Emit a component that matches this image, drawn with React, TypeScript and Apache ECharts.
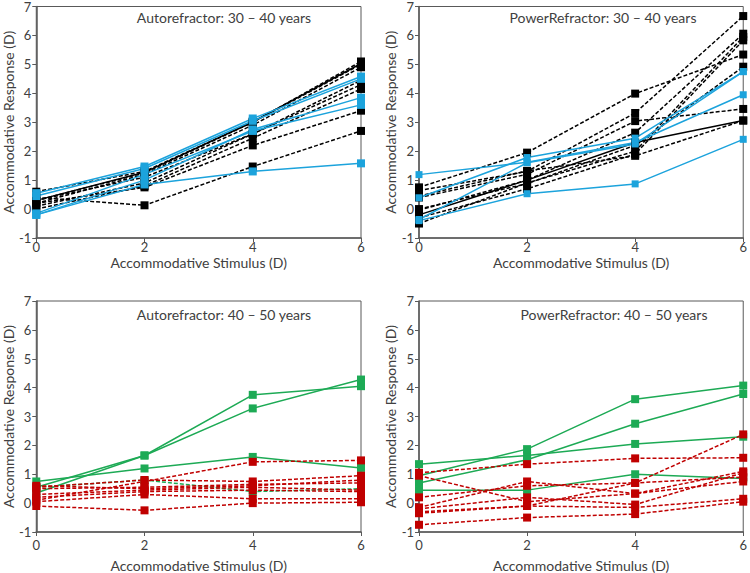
import React, { useEffect, useRef } from "react";
import * as echarts from "echarts";

const stimulus = [0, 2, 4, 6];
const yTicks = [-1, 0, 1, 2, 3, 4, 5, 6, 7];
const panelTitles = [
  "Autorefractor: 30 \u2013 40 years",
  "PowerRefractor: 30 \u2013 40 years",
  "Autorefractor: 40 \u2013 50 years",
  "PowerRefractor: 40 \u2013 50 years",
];

// Panel 1: Autorefractor 30-40
const p1Dashed = [
  [0.6, 1.3, 3.0, 5.1],
  [0.3, 1.25, 3.0, 5.0],
  [0.2, 1.2, 2.9, 4.9],
  [0.1, 0.9, 2.6, 4.3],
  [0.0, 0.8, 2.45, 4.15],
  [0.2, 0.75, 2.2, 3.4],
  [0.4, 0.13, 1.47, 2.7],
  [0.3, 1.1, 2.6, 4.45],
];
const p1Solid = [[0.3, 1.27, 3.02, 5.03]];
const p1Blue = [
  [0.55, 1.47, 3.13, 4.58],
  [0.45, 1.4, 3.05, 4.5],
  [-0.2, 1.0, 2.75, 3.85],
  [-0.15, 1.2, 2.7, 3.6],
  [-0.2, 0.85, 1.3, 1.58],
];

// Panel 2: PowerRefractor 30-40
const p2Dashed = [
  [0.75, 1.95, 3.99, 5.34],
  [0.64, 1.3, 3.32, 6.67],
  [0.4, 1.2, 3.04, 3.46],
  [-0.04, 1.0, 2.64, 6.06],
  [-0.5, 0.9, 2.0, 5.95],
  [0.45, 1.32, 1.84, 3.06],
  [0.0, 0.88, 2.2, 4.92],
  [-0.3, 0.7, 1.9, 5.83],
];
const p2Solid = [[-0.2, 1.0, 2.3, 3.06]];
const p2Blue = [
  [1.19, 1.62, 2.3, 3.95],
  [0.39, 1.78, 2.45, 4.75],
  [-0.36, 1.6, 2.25, 4.75],
  [-0.4, 0.53, 0.87, 2.41],
];

// Panel 3: Autorefractor 40-50
const p3Green = [
  [0.35, 1.65, 3.75, 4.05],
  [0.55, 1.65, 3.28, 4.28],
  [0.75, 1.2, 1.6, 1.22],
];
const p3GreenDashed = [[0.55, 0.8, 0.4, 0.5]];
const p3Red = [
  [0.1, 0.75, 1.43, 1.48],
  [0.55, 0.8, 0.75, 0.95],
  [0.5, 0.55, 0.65, 0.7],
  [0.3, 0.45, 0.55, 0.45],
  [0.2, 0.4, 0.45, 0.4],
  [0.05, 0.3, 0.15, 0.15],
  [-0.1, -0.25, 0.0, 0.03],
  [0.6, 0.5, 0.6, 0.8],
];

// Panel 4: PowerRefractor 40-50
const p4Green = [
  [1.35, 1.65, 2.05, 2.3],
  [0.95, 1.87, 3.6, 4.07],
  [0.7, 1.5, 2.75, 3.78],
  [0.45, 0.45, 1.0, 0.85],
];
const p4Red = [
  [1.05, 1.35, 1.55, 1.57],
  [0.95, 0.05, 0.33, 1.1],
  [0.2, 0.6, 0.7, 0.9],
  [-0.15, 0.75, 0.33, 0.75],
  [-0.3, -0.1, 0.7, 2.38],
  [-0.35, -0.1, -0.15, 0.15],
  [-0.75, -0.5, -0.38, 0.05],
  [-0.2, 0.2, -0.05, 1.05],
];

const BLACK = "#000000";
const BLUE = "#1ca3dc";
const GREEN = "#1daa55";
const RED = "#c00000";
const FONT = "Lato, 'Noto Sans', sans-serif";
const TEXT = "#404040";

const grids = [
  { left: 34, top: 4, width: 327, height: 234 },
  { left: 419, top: 4, width: 327, height: 234 },
  { left: 34, top: 301, width: 327, height: 233 },
  { left: 419, top: 301, width: 327, height: 233 },
];

function mkSeries(rows: number[][], idx: number, color: string, dashed: boolean, size = 8) {
  return rows.map((r) => ({
    type: "line",
    xAxisIndex: idx,
    yAxisIndex: idx,
    data: r.map((v, i) => [stimulus[i], v]),
    symbol: "rect",
    symbolSize: size,
    itemStyle: { color },
    lineStyle: { color, width: 1.5, type: dashed ? [4, 2] : "solid" },
    silent: true,
  }));
}

export default function App() {
  const ref = useRef<HTMLDivElement>(null);
  useEffect(() => {
    document.body.style.margin = "0";
    const chart = echarts.init(ref.current!, null, { renderer: "svg" });
    const xAxes = grids.map((_, i) => ({
      type: "value",
      gridIndex: i,
      min: 0,
      max: 6,
      interval: 2,
      name: "Accommodative Stimulus (D)",
      nameLocation: "middle",
      nameGap: i < 2 ? 17 : 26,
      nameTextStyle: { fontFamily: FONT, fontSize: 14, color: TEXT },
      axisLine: { show: true, onZero: false, lineStyle: { color: "#595959", width: 1.5 } },
      axisTick: { show: true, length: 4, lineStyle: { color: "#595959" } },
      axisLabel: { fontFamily: FONT, fontSize: 13, color: TEXT, margin: i < 2 ? 2 : 6 },
      splitLine: { show: false },
    }));
    const yAxes = grids.map((_, i) => ({
      type: "value",
      gridIndex: i,
      min: -1,
      max: 7,
      interval: 1,
      name: "Accommodative Response (D)",
      nameLocation: "middle",
      nameGap: 21,
      nameTextStyle: { fontFamily: FONT, fontSize: 14, color: TEXT },
      axisLine: { show: true, onZero: false, lineStyle: { color: "#595959", width: 1.5 } },
      axisTick: { show: true, length: 4, lineStyle: { color: "#595959" } },
      axisLabel: {
        fontFamily: FONT,
        fontSize: 13,
        color: TEXT,
        margin: 5,
        formatter: (v: number) => (yTicks.includes(v) ? String(v) : ""),
      },
      splitLine: { show: false },
    }));
    const titleCenters = [
      [224, 17],
      [603, 17],
      [224, 314],
      [614, 314],
    ];
    const series = [
      ...mkSeries(p1Dashed, 0, BLACK, true),
      ...mkSeries(p1Solid, 0, BLACK, false),
      ...mkSeries(p1Blue, 0, BLUE, false),
      ...mkSeries(p2Dashed, 1, BLACK, true),
      ...mkSeries(p2Solid, 1, BLACK, false),
      ...mkSeries(p2Blue, 1, BLUE, false, 7),
      ...mkSeries(p3Green, 2, GREEN, false),
      ...mkSeries(p3GreenDashed, 2, GREEN, true),
      ...mkSeries(p3Red, 2, RED, true),
      ...mkSeries(p4Green, 3, GREEN, false),
      ...mkSeries(p4Red, 3, RED, true),
    ];
    chart.setOption({
      animation: false,
      grid: grids.map((g) => ({
        ...g,
        show: true,
        borderColor: "#595959",
        borderWidth: 1,
        backgroundColor: "transparent",
      })),
      xAxis: xAxes,
      yAxis: yAxes,
      series,
      graphic: panelTitles.map((t, i) => ({
        type: "text",
        x: titleCenters[i][0],
        y: titleCenters[i][1],
        z: 100,
        style: {
          text: t,
          fontFamily: FONT,
          fontSize: 14,
          fill: TEXT,
          textAlign: "center",
          textVerticalAlign: "middle",
        },
      })),
    });
    return () => chart.dispose();
  }, []);
  return (
    <div
      ref={ref}
      style={{ position: "absolute", left: 0, top: 0, width: 750, height: 573, background: "#fff" }}
    />
  );
}
